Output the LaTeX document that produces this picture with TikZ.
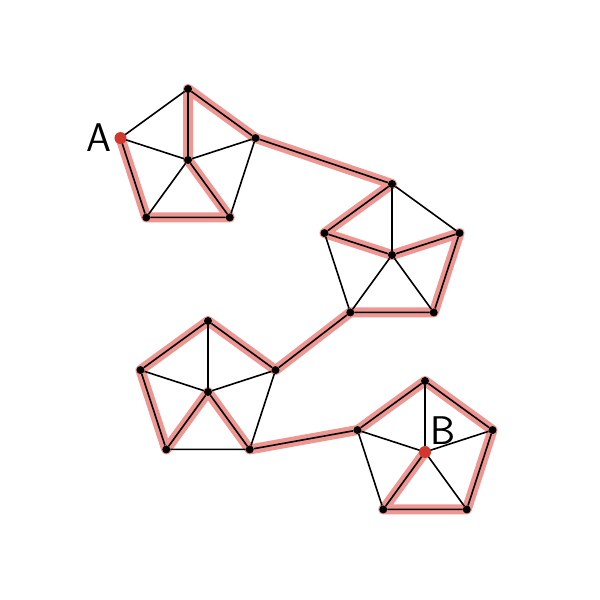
\documentclass[tikz,border=0pt]{standalone}
\usepackage{tikz}
\usetikzlibrary{positioning,backgrounds}

\definecolor{hilite}{RGB}{238,150,146}
\definecolor{endred}{RGB}{210,55,45}

\tikzset{
  vertex/.style={circle, fill=black, inner sep=0pt, minimum size=8pt},
  endvertex/.style={circle, fill=endred, inner sep=0pt, minimum size=12pt},
  edge/.style={black, line width=1.6pt},
  walk/.style={hilite, line width=10pt, line cap=round, line join=round},
  letter/.style={font=\sffamily\fontsize{40}{40}\selectfont, inner sep=0pt}
}

\begin{document}
\begin{tikzpicture}[x=1pt, y=1pt]

      \useasboundingbox (0,0) rectangle (600,600);

      % four wheels: centre and five rim vertices
      \foreach \w/\cx/\cy in {p/188/440, q/392/345, r/208/208, s/425/148} {
        \node[vertex] (\w-c) at (\cx,\cy) {};
        \foreach \i in {1,...,5}
          \node[vertex] (\w-\i) at ([shift={({18+72*\i}:71pt)}]\cx,\cy) {};
        \draw[edge] (\w-1) -- (\w-2) -- (\w-3) -- (\w-4) -- (\w-5) -- (\w-1);
        \foreach \i in {1,...,5}
          \draw[edge] (\w-c) -- (\w-\i);
      }

      % bridges between the wheels
      \draw[edge] (p-5) -- (q-1);
      \draw[edge] (q-3) -- (r-5);
      \draw[edge] (r-4) -- (s-2);

      % highlighted walk from A to B
      \begin{scope}[on background layer]
        \draw[walk] (p-2.center) -- (p-3.center) -- (p-4.center) -- (p-c.center)
          -- (p-1.center) -- (p-5.center) -- (q-1.center) -- (q-2.center)
          -- (q-c.center) -- (q-5.center) -- (q-4.center) -- (q-3.center)
          -- (r-5.center) -- (r-1.center) -- (r-2.center) -- (r-3.center)
          -- (r-c.center) -- (r-4.center) -- (s-2.center) -- (s-1.center)
          -- (s-5.center) -- (s-4.center) -- (s-3.center) -- (s-c.center);
      \end{scope}

      \node[endvertex] at (p-2) {};
      \node[endvertex] at (s-c) {};

      \node[letter, left=5pt of p-2] (labA) {A};
      \node[letter, above right=4pt and 2pt of s-c] (labB) {B};

\end{tikzpicture}
\end{document}
